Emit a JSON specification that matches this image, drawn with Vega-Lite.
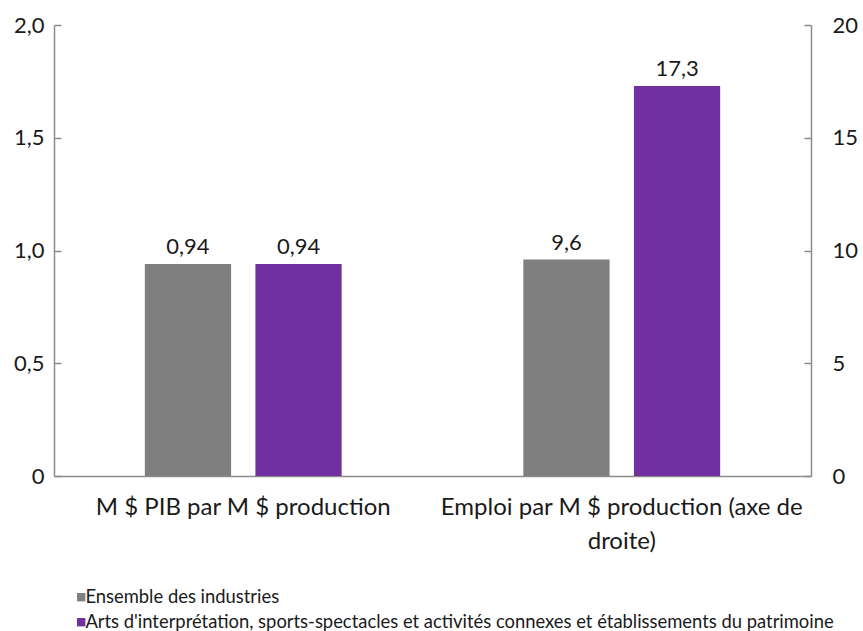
{
  "$schema": "https://vega.github.io/schema/vega-lite/v6.json",
  "width": 757,
  "height": 451,
  "autosize": {"type": "none"},
  "padding": {"left": 54, "top": 25, "right": 52, "bottom": 155},
  "config": {
    "font": "Lato",
    "view": {"stroke": null},
    "locale": {"number": {"decimal": ",", "thousands": " ", "grouping": [3], "currency": ["", " $"]}}
  },
  "data": {
    "values": [
      {"categorie": "M $ PIB par M $ production", "serie": "Ensemble des industries", "valeur": 0.94},
      {"categorie": "M $ PIB par M $ production", "serie": "Arts d'interprétation, sports-spectacles et activités connexes et établissements du patrimoine", "valeur": 0.94},
      {"categorie": "Emploi par M $ production (axe de droite)", "serie": "Ensemble des industries", "valeur": 9.6},
      {"categorie": "Emploi par M $ production (axe de droite)", "serie": "Arts d'interprétation, sports-spectacles et activités connexes et établissements du patrimoine", "valeur": 17.3}
    ]
  },
  "encoding": {
    "x": {
      "field": "categorie",
      "type": "nominal",
      "sort": ["M $ PIB par M $ production", "Emploi par M $ production (axe de droite)"],
      "scale": {"paddingInner": 0.48, "paddingOuter": 0.24},
      "axis": {
        "title": null,
        "labelAngle": 0,
        "ticks": false,
        "domainColor": "#8c8c8c",
        "domainWidth": 1.5,
        "labelFontSize": 24,
        "labelColor": "#1a1a1a",
        "labelPadding": 19,
        "labelLineHeight": 34,
        "labelLimit": 500,
        "labelExpr": "datum.value == 'Emploi par M $ production (axe de droite)' ? ['Emploi par M $ production (axe de', 'droite)'] : datum.value"
      }
    },
    "xOffset": {
      "field": "serie",
      "type": "nominal",
      "sort": ["Ensemble des industries", "Arts d'interprétation, sports-spectacles et activités connexes et établissements du patrimoine"],
      "scale": {"paddingInner": 0.22, "paddingOuter": 0}
    },
    "color": {
      "field": "serie",
      "type": "nominal",
      "sort": ["Ensemble des industries", "Arts d'interprétation, sports-spectacles et activités connexes et établissements du patrimoine"],
      "scale": {
        "domain": ["Ensemble des industries", "Arts d'interprétation, sports-spectacles et activités connexes et établissements du patrimoine"],
        "range": ["#7f7f7f", "#7030a0"]
      },
      "legend": {
        "title": null,
        "orient": "none",
        "legendX": 18,
        "legendY": 563,
        "direction": "vertical",
        "symbolType": "square",
        "symbolSize": 70,
        "symbolStrokeWidth": 0,
        "labelFontSize": 18.4,
        "labelColor": "#1a1a1a",
        "labelLimit": 900,
        "labelOffset": -5,
        "rowPadding": 6
      }
    }
  },
  "layer": [
    {
      "transform": [{"filter": "datum.categorie == 'M $ PIB par M $ production'"}],
      "encoding": {
        "y": {
          "field": "valeur",
          "type": "quantitative",
          "scale": {"domain": [0, 2]},
          "axis": {
            "title": null,
            "orient": "left",
            "values": [0, 0.5, 1, 1.5, 2],
            "grid": false,
            "domainColor": "#8c8c8c",
            "domainWidth": 1.5,
            "tickColor": "#8c8c8c",
            "tickWidth": 1.5,
            "tickSize": -7,
            "labelFontSize": 22,
            "labelColor": "#1a1a1a",
            "labelPadding": 17,
            "labelExpr": "datum.value == 0 ? '0' : replace(format(datum.value, '.1f'), '.', ',')"
          }
        }
      },
      "layer": [
        {"mark": {"type": "bar"}},
        {
          "mark": {"type": "text", "dy": -17, "fontSize": 22, "color": "#1a1a1a"},
          "encoding": {"text": {"field": "valeur", "type": "quantitative", "format": ".2~f"}, "color": {"value": "#1a1a1a"}}
        }
      ]
    },
    {
      "transform": [{"filter": "datum.categorie != 'M $ PIB par M $ production'"}],
      "encoding": {
        "y": {
          "field": "valeur",
          "type": "quantitative",
          "scale": {"domain": [0, 20]},
          "axis": {
            "title": null,
            "orient": "right",
            "values": [0, 5, 10, 15, 20],
            "grid": false,
            "domainColor": "#8c8c8c",
            "domainWidth": 1.5,
            "tickColor": "#8c8c8c",
            "tickWidth": 1.5,
            "tickSize": -7,
            "labelFontSize": 22,
            "labelColor": "#1a1a1a",
            "labelPadding": 28
          }
        }
      },
      "layer": [
        {"mark": {"type": "bar"}},
        {
          "mark": {"type": "text", "dy": -17, "fontSize": 22, "color": "#1a1a1a"},
          "encoding": {"text": {"field": "valeur", "type": "quantitative", "format": ".2~f"}, "color": {"value": "#1a1a1a"}}
        }
      ]
    }
  ],
  "resolve": {"scale": {"y": "independent"}, "axis": {"y": "independent"}}
}
